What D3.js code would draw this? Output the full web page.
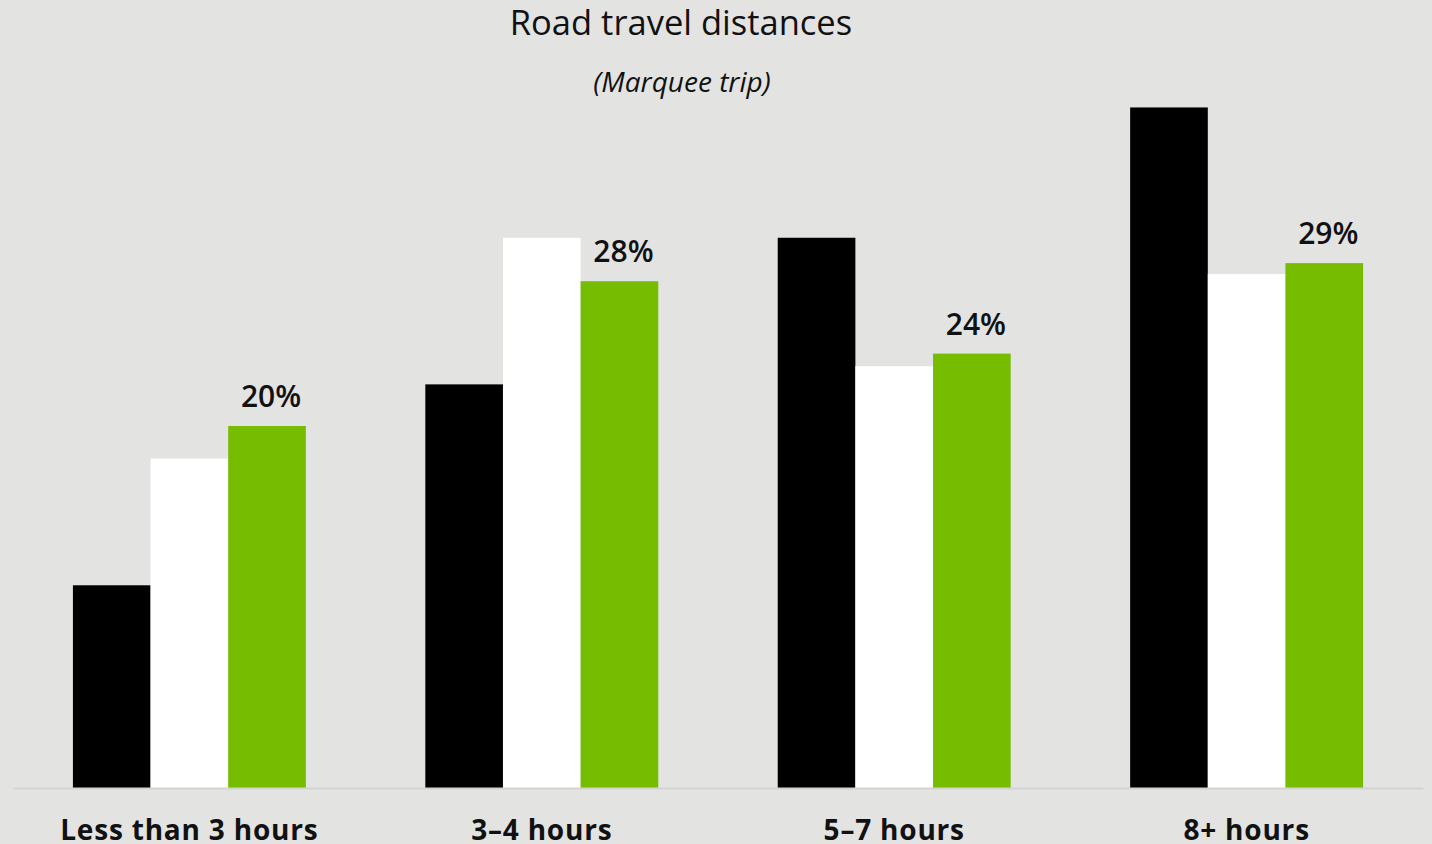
<!DOCTYPE html>
<html>
<head>
<meta charset="utf-8">
<script src="https://cdn.jsdelivr.net/npm/d3@7"></script>
<style>
  html, body { margin: 0; padding: 0; background: #e3e3e2; }
  svg { display: block; }
  text { font-family: "Open Sans", "Noto Sans", sans-serif; }
</style>
</head>
<body>
<svg id="chart" width="1432" height="844"></svg>
<script>
// Trip-length categories and the three series shown per category
const categories = ["Less than 3 hours", "3\u20134 hours", "5\u20137 hours", "8+ hours"];
const seriesNames = ["black", "white", "green"];
const blackValues = [11.2, 22.3, 30.4, 37.6];
const whiteValues = [18.2, 30.4, 23.3, 28.4];
const greenValues = [20, 28, 24, 29];
const greenLabels = ["20%", "28%", "24%", "29%"];

const colors = { black: "#000000", white: "#ffffff", green: "#76bc00" };

const W = 1432, H = 844;
const plotLeft = 13, plotRight = 1423, baseY = 788;

const svg = d3.select("#chart");
svg.append("rect").attr("width", W).attr("height", H).attr("fill", "#e3e3e2");

const x0 = d3.scaleBand()
  .domain(categories)
  .range([plotLeft, plotRight])
  .paddingInner(0.339)
  .paddingOuter(0.17);

const x1 = d3.scaleBand()
  .domain(seriesNames)
  .range([0, x0.bandwidth()])
  .padding(0);

const y = d3.scaleLinear()
  .domain([0, 40])
  .range([baseY, baseY - 40 * 18.1]);

const rows = categories.map((c, i) => ({
  category: c,
  values: [
    { key: "black", value: blackValues[i] },
    { key: "white", value: whiteValues[i] },
    { key: "green", value: greenValues[i], label: greenLabels[i] }
  ]
}));

// Title block
svg.append("text")
  .attr("x", 681).attr("y", 35)
  .attr("text-anchor", "middle")
  .attr("font-size", 34.5)
  .attr("fill", "#111")
  .text("Road travel distances");

svg.append("text")
  .attr("x", 682).attr("y", 92)
  .attr("text-anchor", "middle")
  .attr("font-size", 28)
  .attr("font-style", "italic")
  .attr("fill", "#111")
  .text("(Marquee trip)");

// Bars
const groups = svg.append("g").selectAll("g")
  .data(rows)
  .join("g")
  .attr("transform", d => `translate(${x0(d.category)},0)`);

groups.selectAll("rect")
  .data(d => d.values)
  .join("rect")
  .attr("x", d => x1(d.key))
  .attr("width", x1.bandwidth())
  .attr("y", d => y(d.value))
  .attr("height", d => y(0) - y(d.value))
  .attr("fill", d => colors[d.key]);

// Value labels on the green series
groups.selectAll("text.val")
  .data(d => d.values.filter(v => v.label))
  .join("text")
  .attr("class", "val")
  .attr("x", d => x1(d.key) + x1.bandwidth() / 2 + 4)
  .attr("y", d => y(d.value) - 19)
  .attr("text-anchor", "middle")
  .attr("font-size", 30)
  .attr("font-weight", 600)
  .attr("fill", "#111")
  .text(d => d.label);

// Baseline axis
const xAxis = d3.axisBottom(x0).tickSize(0).tickPadding(0);
const axisG = svg.append("g")
  .attr("transform", `translate(0,${baseY})`)
  .call(xAxis);
axisG.select(".domain")
  .attr("stroke", "#d3d3d1")
  .attr("stroke-width", 2);
axisG.selectAll(".tick text")
  .attr("dy", 0)
  .attr("y", 52)
  .attr("font-size", 28)
  .attr("font-weight", 700)
  .attr("letter-spacing", "0.8px")
  .attr("fill", "#111")
  .attr("font-family", "'Open Sans', 'Noto Sans', sans-serif");
</script>
</body>
</html>
